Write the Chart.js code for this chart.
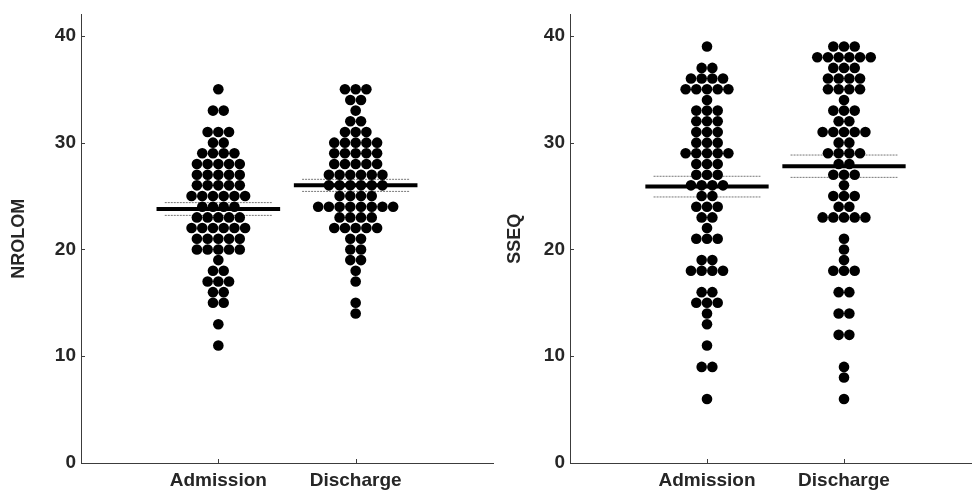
<!DOCTYPE html>
<html>
<head>
<meta charset="utf-8">
<script src="https://cdn.jsdelivr.net/npm/chart.js@4.4.1/dist/chart.umd.min.js"></script>
<style>
  html, body { margin: 0; padding: 0; background: #fff; overflow: hidden; }
  .panel { position: absolute; top: 0; width: 500px; height: 493px; }
</style>
</head>
<body>
<div class="panel" style="left:0"><canvas id="chartNrolom"></canvas></div>
<div class="panel" style="left:490px"><canvas id="chartSseq"></canvas></div>
<script>
// ---- data ------------------------------------------------------------------
const categories = ['Admission', 'Discharge'];
const yTicks = [0, 10, 20, 30, 40];

const nrolomAdmission = [35, 33, 33, 31, 31, 31, 30, 30, 29, 29, 29, 29, 28, 28, 28, 28, 28,
    27, 27, 27, 27, 27, 26, 26, 26, 26, 26, 25, 25, 25, 25, 25, 25, 24, 24, 24, 24,
    23, 23, 23, 23, 23, 22, 22, 22, 22, 22, 22, 21, 21, 21, 21, 21, 20, 20, 20, 20, 20,
    19, 18, 18, 17, 17, 17, 16, 16, 15, 15, 13, 11];
const nrolomDischarge = [35, 35, 35, 34, 34, 33, 32, 32, 31, 31, 31, 30, 30, 30, 30, 30,
    29, 29, 29, 29, 29, 28, 28, 28, 28, 28, 27, 27, 27, 27, 27, 27, 26, 26, 26, 26, 26, 26,
    25, 25, 25, 25, 24, 24, 24, 24, 24, 24, 24, 24, 23, 23, 23, 23, 22, 22, 22, 22, 22,
    21, 21, 20, 20, 19, 19, 18, 17, 15, 14];
const sseqAdmission = [39, 37, 37, 36, 36, 36, 36, 35, 35, 35, 35, 35, 34, 33, 33, 33,
    32, 32, 32, 31, 31, 31, 30, 30, 30, 29, 29, 29, 29, 29, 28, 28, 28, 27, 27, 27,
    26, 26, 26, 26, 25, 25, 24, 24, 24, 23, 23, 22, 21, 21, 21, 19, 19, 18, 18, 18, 18,
    16, 16, 15, 15, 15, 14, 13, 11, 9, 9, 6];
const sseqDischarge = [39, 39, 39, 38, 38, 38, 38, 38, 38, 37, 37, 37, 36, 36, 36, 36,
    35, 35, 35, 35, 34, 33, 33, 33, 32, 32, 31, 31, 31, 31, 31, 30, 30, 29, 29, 29, 29,
    28, 28, 27, 27, 27, 26, 25, 25, 25, 24, 24, 23, 23, 23, 23, 23, 21, 20, 19, 18, 18, 18,
    16, 16, 14, 14, 12, 12, 9, 8, 6];

// ---- helpers ---------------------------------------------------------------
const DOT_STEP = 0.078;   // horizontal spacing of dots in x units

function swarm(values, center) {
    var rows = {};
    values.forEach(function(v) { rows[v] = (rows[v] || 0) + 1; });
    var pts = [];
    Object.keys(rows).forEach(function(k) {
        var n = rows[k];
        for (var i = 0; i < n; i++) {
            pts.push({ x: center + (i - (n - 1) / 2) * DOT_STEP, y: Number(k) });
        }
    });
    return pts;
}

function stats(values) {
    var n = values.length;
    var mean = values.reduce(function(a, b) { return a + b; }, 0) / n;
    var ss = values.reduce(function(a, b) { return a + (b - mean) * (b - mean); }, 0);
    var sem = Math.sqrt(ss / (n - 1)) / Math.sqrt(n);
    return { mean: mean, sem: sem };
}

function hline(y, center, half, color, width, dash, order) {
    return {
        type: 'line',
        data: [{ x: center - half, y: y }, { x: center + half, y: y }],
        borderColor: color,
        borderWidth: width,
        borderDash: dash,
        pointRadius: 0,
        order: order
    };
}

const inwardTicks = {
    id: 'inwardTicks',
    afterDraw(chart) {
        const { ctx, chartArea, scales } = chart;
        ctx.save();
        ctx.strokeStyle = '#3c3c3c';
        ctx.lineWidth = 1;
        ctx.beginPath();
        scales.y.ticks.forEach(function(t) {
            var py = Math.round(scales.y.getPixelForValue(t.value)) + 0.5;
            ctx.moveTo(chartArea.left, py);
            ctx.lineTo(chartArea.left + 4, py);
        });
        scales.x.ticks.forEach(function(t) {
            var px = Math.round(scales.x.getPixelForValue(t.value)) + 0.5;
            ctx.moveTo(px, chartArea.bottom);
            ctx.lineTo(px, chartArea.bottom - 4);
        });
        ctx.stroke();
        ctx.restore();
    }
};

function makeChart(id, title, admission, discharge, titlePad, rightPad, axisWidth) {
    var datasets = [];
    [admission, discharge].forEach(function(vals, i) {
        var c = i + 1;
        var s = stats(vals);
        datasets.push(hline(s.mean, c, 0.45, '#000', 4, [], 0));
        datasets.push({
            type: 'scatter',
            data: swarm(vals, c),
            backgroundColor: '#000',
            borderWidth: 0,
            pointRadius: 5.3,
            order: 1
        });
        datasets.push(hline(s.mean + s.sem, c, 0.39, '#777', 1, [2, 1], 2));
        datasets.push(hline(s.mean - s.sem, c, 0.39, '#777', 1, [2, 1], 2));
    });

    return new Chart(document.getElementById(id), {
        type: 'scatter',
        data: { datasets: datasets },
        options: {
            responsive: true,
            maintainAspectRatio: false,
            animation: false,
            devicePixelRatio: 1,
            layout: { padding: { top: 11, right: rightPad, left: 0, bottom: 0 } },
            plugins: { legend: { display: false }, tooltip: { enabled: false } },
            scales: {
                x: {
                    type: 'linear',
                    min: 0,
                    max: 3,
                    grid: { display: false, drawTicks: false },
                    border: { display: true, color: '#3c3c3c', width: 1 },
                    afterBuildTicks: function(axis) {
                        axis.ticks = categories.map(function(c, i) { return { value: i + 1 }; });
                    },
                    afterFit: function(axis) { axis.height = 30; },
                    ticks: {
                        padding: 6,
                        color: '#262626',
                        font: { family: 'Liberation Sans', size: 19, weight: 'bold' },
                        callback: function(v) { return categories[v - 1]; }
                    }
                },
                y: {
                    min: 0,
                    max: 42,
                    grid: { display: false, drawTicks: false },
                    border: { display: true, color: '#3c3c3c', width: 1 },
                    afterBuildTicks: function(axis) {
                        axis.ticks = yTicks.map(function(v) { return { value: v }; });
                    },
                    afterFit: function(axis) { axis.width = axisWidth; },
                    ticks: {
                        padding: 5,
                        color: '#262626',
                        font: { family: 'Liberation Sans', size: 19, weight: 'bold', lineHeight: 1 }
                    },
                    title: {
                        display: true,
                        text: title,
                        color: '#262626',
                        padding: { top: titlePad, bottom: 0 },
                        font: { family: 'Liberation Sans', size: 18, weight: 'bold' }
                    }
                }
            }
        },
        plugins: [inwardTicks]
    });
}

// ---- charts ----------------------------------------------------------------
const chartNrolom = makeChart('chartNrolom', 'NROLOM', nrolomAdmission, nrolomDischarge, 8, 7, 81);
const chartSseq = makeChart('chartSseq', 'SSEQ', sseqAdmission, sseqDischarge, 14, 9, 80);
</script>
</body>
</html>
